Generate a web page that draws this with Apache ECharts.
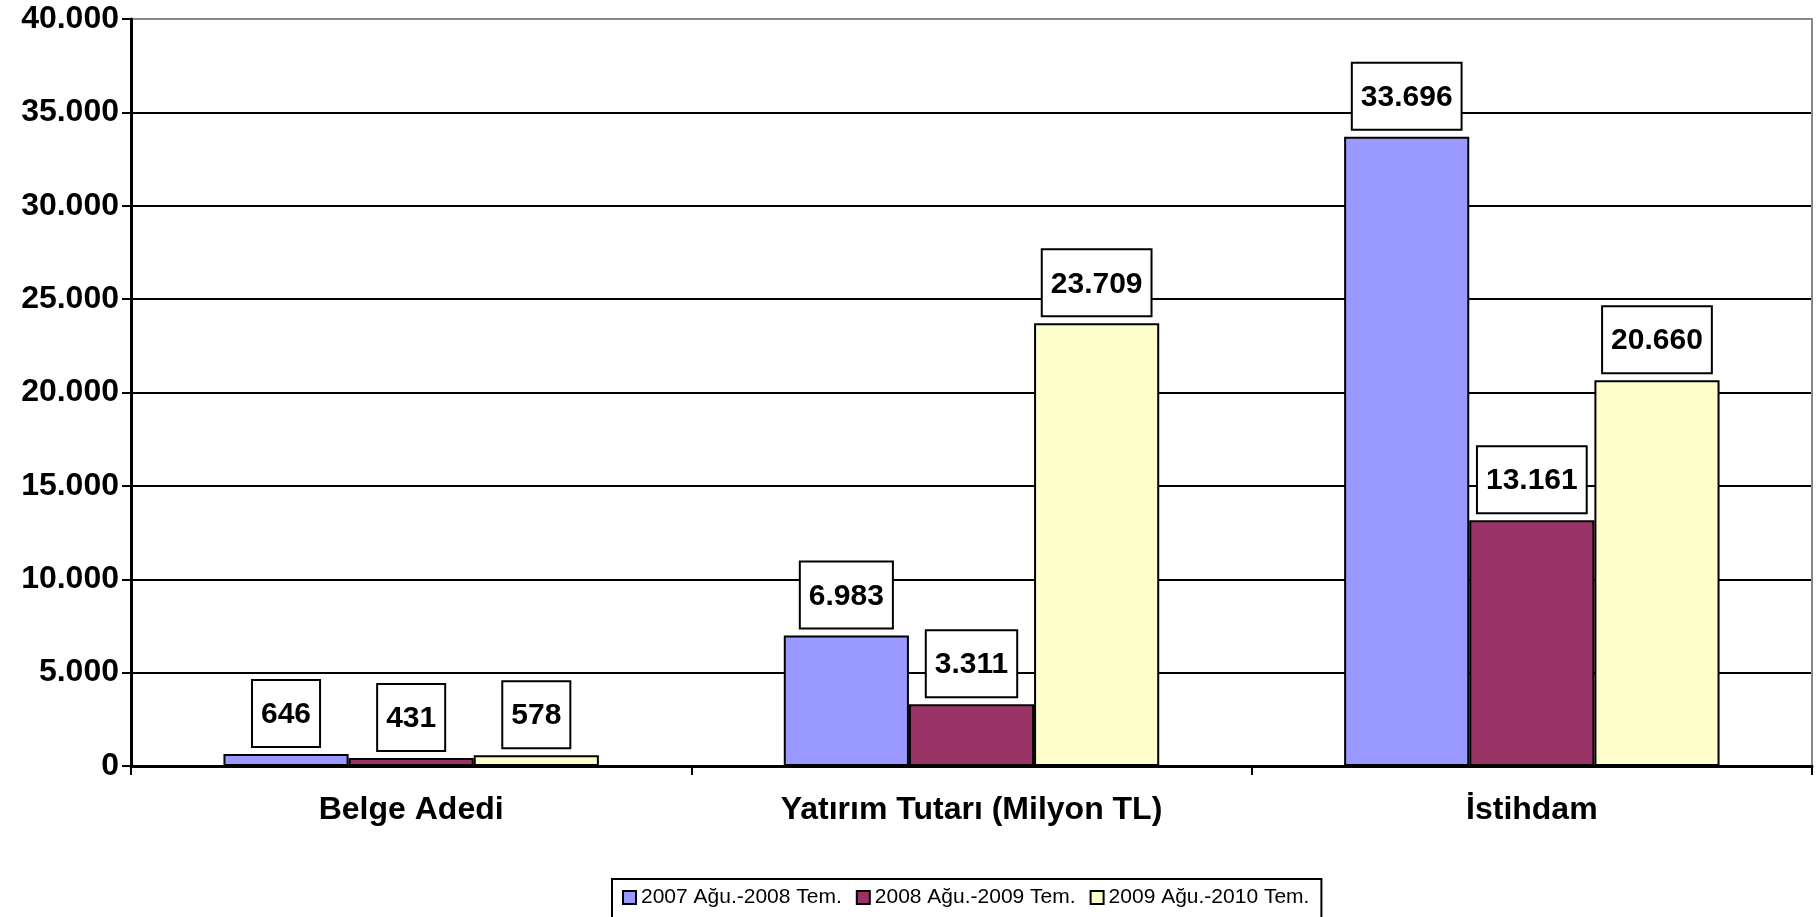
<!DOCTYPE html>
<html>
<head>
<meta charset="utf-8">
<script src="https://cdn.jsdelivr.net/npm/echarts@6/dist/echarts.min.js"></script>
<style>
  html, body { margin: 0; padding: 0; background: #fff; }
  #chart { width: 1820px; height: 917px; }
</style>
</head>
<body>
<div id="chart"></div>
<script>
const categories = ['Belge Adedi', 'Yatırım Tutarı (Milyon TL)', 'İstihdam'];
const seriesNames = ['2007 Ağu.-2008 Tem.', '2008 Ağu.-2009 Tem.', '2009 Ağu.-2010 Tem.'];
const period1 = [646, 6983, 33696];
const period2 = [431, 3311, 13161];
const period3 = [578, 23709, 20660];
const colors = ['#9999FF', '#993366', '#FFFFCC'];

function fmt(v) {
  return String(v).replace(/\B(?=(\d{3})+(?!\d))/g, '.');
}

function renderChart() {
  const chart = echarts.init(document.getElementById('chart'));
  const font = 'Arial, "Liberation Sans", sans-serif';

  const makeSeries = (name, data, color) => ({
    name: name,
    type: 'bar',
    data: data,
    barGap: '0%',
    barCategoryGap: '33%',
    itemStyle: { color: color, borderColor: '#000', borderWidth: 2 },
    label: {
      show: true,
      position: 'top',
      distance: 8,
      formatter: p => fmt(p.value),
      fontFamily: font,
      fontWeight: 'bold',
      fontSize: 30,
      color: '#000',
      backgroundColor: '#fff',
      borderColor: '#000',
      borderWidth: 2,
      padding: [19, 8, 16, 8]
    }
  });

  const splitColors = ['#000', '#000', '#000', '#000', '#000', '#000', '#000', '#000', '#888'];

  chart.setOption({
    animation: false,
    textStyle: { fontFamily: font },
    grid: { left: 131, right: 8, top: 19, bottom: 151 },
    legend: {
      top: 879,
      left: 612,
      data: seriesNames,
      itemWidth: 13,
      itemHeight: 13,
      itemGap: 14,
      padding: [8, 12, 12, 10],
      borderColor: '#000',
      borderWidth: 2,
      icon: 'rect',
      itemStyle: { borderColor: '#000', borderWidth: 2 },
      textStyle: { fontSize: 21, color: '#000', fontFamily: font }
    },
    xAxis: {
      type: 'category',
      data: categories,
      axisLine: { lineStyle: { color: '#000', width: 3 } },
      axisTick: { show: true, length: 9, lineStyle: { color: '#000', width: 2 } },
      axisLabel: {
        margin: 28,
        fontSize: 32,
        fontWeight: 'bold',
        color: '#000',
        fontFamily: font
      }
    },
    yAxis: [{
      type: 'value',
      min: 0,
      max: 40000,
      interval: 5000,
      axisLine: { show: true, lineStyle: { color: '#000', width: 3 } },
      axisTick: { show: true, length: 9, lineStyle: { color: '#000', width: 2 } },
      axisLabel: {
        margin: 12,
        fontSize: 32,
        fontWeight: 'bold',
        color: '#000',
        fontFamily: font,
        formatter: v => fmt(v)
      },
      splitLine: { show: true, lineStyle: { color: splitColors, width: 2 } }
    }, {
      type: 'value',
      position: 'right',
      min: 0,
      max: 40000,
      interval: 5000,
      axisLine: { show: true, lineStyle: { color: '#888', width: 2 } },
      axisTick: { show: false },
      axisLabel: { show: false },
      splitLine: { show: false }
    }],
    series: [
      makeSeries(seriesNames[0], period1, colors[0]),
      makeSeries(seriesNames[1], period2, colors[1]),
      makeSeries(seriesNames[2], period3, colors[2])
    ]
  });
}

renderChart();
</script>
</body>
</html>
